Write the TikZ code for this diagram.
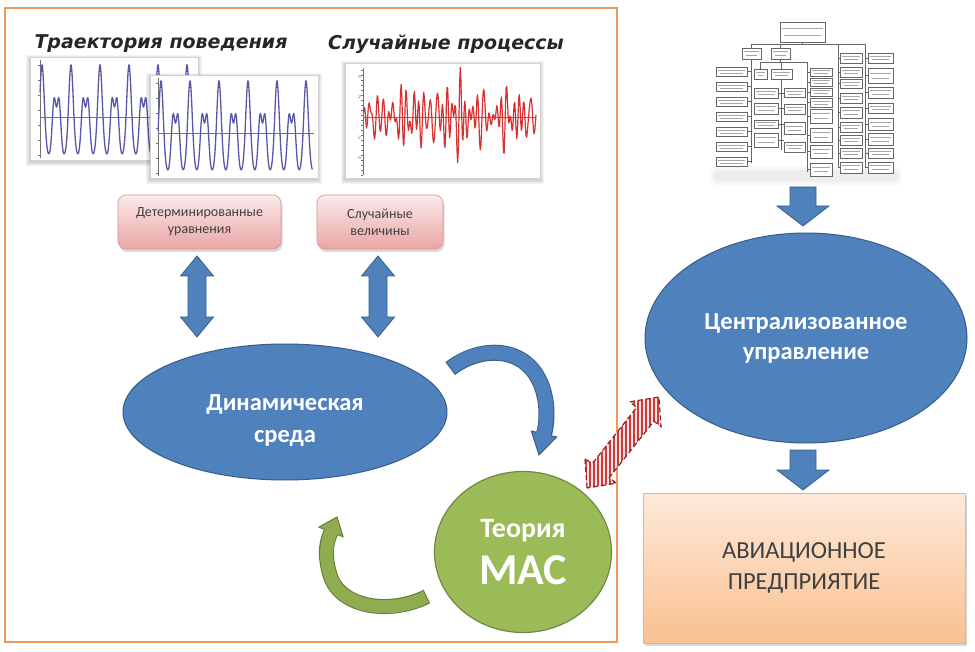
\documentclass[tikz,border=0pt]{standalone}
\usepackage{fontspec}
\setmainfont{Carlito}
\newfontfamily\titlefont{DejaVu Sans}
\usetikzlibrary{calc,shapes.geometric}
\definecolor{cblue}{RGB}{79,129,189}
\definecolor{cbluedk}{RGB}{56,93,138}
\definecolor{cgreen}{RGB}{155,187,89}
\definecolor{cgreendk}{RGB}{113,137,63}
\definecolor{agreen}{RGB}{143,172,80}
\definecolor{agreendk}{RGB}{100,122,55}
\definecolor{cframe}{RGB}{240,152,92}
\definecolor{pinktop}{RGB}{252,234,234}
\definecolor{pinkbot}{RGB}{234,165,165}
\definecolor{pinkdraw}{RGB}{214,150,150}
\definecolor{orgtop}{RGB}{253,234,218}
\definecolor{orgbot}{RGB}{250,192,145}
\definecolor{orgdraw}{RGB}{228,178,140}
\definecolor{txtgray}{RGB}{64,64,64}
\definecolor{plotblue}{RGB}{88,88,170}
\definecolor{plotred}{RGB}{214,48,48}
\definecolor{hatchred}{RGB}{205,60,60}
\definecolor{hatchbg}{RGB}{252,228,228}
\definecolor{hatchdk}{RGB}{130,40,40}
\newcommand\dblpts[3]{\coordinate (dP) at ($(#1)!#3!(#2)$);\coordinate (dQ) at ($(#2)!#3!(#1)$);}
\newcommand\dblpath[5]{(#1) -- ($(dP)!#4!90:(#2)$) -- ($(dP)!#5!90:(#2)$) -- ($(dQ)!#5!-90:(#1)$) -- ($(dQ)!#4!-90:(#1)$) -- (#2) -- ($(dQ)!#4!90:(#1)$) -- ($(dQ)!#5!90:(#1)$) -- ($(dP)!#5!-90:(#2)$) -- ($(dP)!#4!-90:(#2)$) -- cycle}
\newcommand\sglpath[5]{($(#1)!#5!90:(#2)$) -- ($(dQ)!#5!-90:(#1)$) -- ($(dQ)!#4!-90:(#1)$) -- (#2) -- ($(dQ)!#4!90:(#1)$) -- ($(dQ)!#5!90:(#1)$) -- ($(#1)!#5!-90:(#2)$) -- cycle}
\newcommand\softshadow[4]{\foreach \k in {1,...,4}{\fill[black,opacity=0.045] ({#1-\k},{#2-\k+2}) rectangle ({#3+\k},{#4+\k+2});}}
\tikzset{
  declare function={bw(\u)=-41+93*exp(-4*(1-cos(\u)))+57*exp(-6*(1-cos(\u-150)))+57*exp(-6*(1-cos(\u-210)));},
  titlestyle/.style={font=\titlefont\bfseries\itshape\fontsize{19}{22}\selectfont, text=black!85, inner sep=0pt},
  plotframe/.style={fill=white, draw=black!18, line width=0.5pt},
  plotaxis/.style={draw=black!55, line width=0.6pt},
  pinkbox/.style={rectangle, rounded corners=8pt, draw=pinkdraw, line width=0.6pt, top color=pinktop, bottom color=pinkbot, align=center, text=txtgray, font=\fontsize{14}{17}\selectfont, inner sep=0pt, preaction={fill=black, opacity=0.15, transform canvas={shift={(1.5pt,-3pt)}}}},
  orangebox/.style={rectangle, draw=orgdraw, line width=0.6pt, top color=orgtop, bottom color=orgbot, align=center, text=txtgray, font=\fontsize{24.5}{31}\selectfont, inner sep=0pt, preaction={fill=black, opacity=0.15, transform canvas={shift={(2pt,-3pt)}}}},
  blueell/.style={ellipse, fill=cblue, draw=cbluedk, line width=1pt, inner sep=0pt},
  whitetext/.style={text=white, font=\bfseries\fontsize{24.5}{32}\selectfont, align=center, inner sep=0pt},
  greencirc/.style={ellipse, fill=cgreen, draw=cgreendk, line width=1.2pt, inner sep=0pt, text=white, align=center},
  blockarrow/.style={fill=cblue, draw=cbluedk, line width=0.8pt, line join=miter},
  orgbox/.style={fill=white, draw=black!60, line width=0.5pt},
  orgtxt/.style={draw=black!35, line width=0.7pt},
  orgline/.style={draw=black!60, line width=0.5pt},
}
\begin{document}
\begin{tikzpicture}[x=1pt,y=-1pt]
\useasboundingbox (0,0) rectangle (975,652);
\fill[white] (0,0) rectangle (975,652);

% left frame
\draw[cframe, line width=2pt] (5,8) rectangle (617,642);

% titles
\node[titlestyle] (t1) at (161,44) {Траектория поведения};
\node[titlestyle] (t2) at (446,44) {Случайные процессы};

% back blue plot
\softshadow{30}{57}{198}{160}
\draw[plotframe] (30,57) rectangle (198,160);
\draw[plotaxis] (40,60) -- (40,158);
\foreach \t in {65,80,...,155} \draw[plotaxis] (38,\t) -- (40,\t);
\draw[plotaxis] (40,117) -- (196,117);
\draw[plotblue, line width=1.3pt] plot[domain=-24:1900, samples=700] ({42+\x/360*29},{117-bw(\x)});
% front blue plot
\softshadow{150}{75}{318}{178}
\draw[plotframe] (150,75) rectangle (318,178);
\draw[plotaxis] (158,78) -- (158,176);
\foreach \t in {83,98,...,173} \draw[plotaxis] (156,\t) -- (158,\t);
\draw[plotaxis] (158,133) -- (314,133);
\draw[plotblue, line width=1.3pt] plot[domain=-36:1880, samples=700] ({161+\x/360*29},{133-bw(\x)});

% red plot
\softshadow{345}{63}{540}{178}
\draw[plotframe] (345,63) rectangle (540,178);
\draw[plotaxis] (363,68) -- (363,175);
\foreach \t in {70,75,...,175} \draw[plotaxis] (361,\t) -- (363,\t);
\draw[plotaxis] (363,117) -- (536,117);
\foreach \v/\t in {77/4,97/2,138/-2,158/-4}
  \node[anchor=east, inner sep=0pt, font=\fontsize{5}{5}\selectfont, text=black!60] at (361,\v) {\t};
\begin{scope}
\clip (346,64) rectangle (539,177);
\draw[plotred, line width=1.2pt, line join=round] plot[domain=0:172, samples=260] ({364+\x},{117-(0.85+0.35*exp(0-(((\x-87)/35)^2)))*(13*sin(61*\x)+11*sin(79*\x+40)+8*sin(86*\x+100)+9*sin(47*\x+200)+7*sin(31*\x+300))});
\end{scope}

% pink boxes
\node[pinkbox, minimum width=163pt, minimum height=54pt] (det) at (199.5,222) {Детерминированные\\уравнения};
\node[pinkbox, minimum width=126pt, minimum height=54pt] (rnd) at (380,222) {Случайные\\величины};

% ellipses and circle
\node[blueell, minimum width=324pt, minimum height=136pt] (dyn) at (285,412) {};
\node[whitetext] (dynt) at (285,421) {Динамическая\\среда};
\node[blueell, minimum width=322pt, minimum height=210pt, text=white, font=\bfseries\fontsize{24.5}{30}\selectfont, align=center] (cen) at (806,338) {Централизованное\\управление};
\node[greencirc, minimum width=177pt, minimum height=161pt] (mas) at (523,552) {\fontsize{28}{30}\selectfont\bfseries Теория\\[12pt]\fontsize{44}{44}\selectfont\bfseries МАС};
\node[orangebox, minimum width=322pt, minimum height=150pt] (avia) at (804,568) {АВИАЦИОННОЕ\\ПРЕДПРИЯТИЕ};

% vertical double arrows
\coordinate (la1) at (197,256); \coordinate (la2) at (197,337);
\coordinate (ra1) at (378,256); \coordinate (ra2) at (378,337);
\dblpts{la1}{la2}{20pt}
\path[blockarrow] \dblpath{la1}{la2}{20pt}{16.5pt}{9pt};
\dblpts{ra1}{ra2}{20pt}
\path[blockarrow] \dblpath{ra1}{ra2}{20pt}{16.5pt}{9pt};

% down arrows (right)
\coordinate (da1) at (803,187); \coordinate (da2) at (803,226);
\coordinate (db1) at (803,450); \coordinate (db2) at (803,490);
\dblpts{da1}{da2}{20pt}
\path[blockarrow] \sglpath{da1}{da2}{20pt}{26pt}{13pt};
\dblpts{db1}{db2}{20pt}
\path[blockarrow] \sglpath{db1}{db2}{20pt}{26pt}{13pt};

% curved blue arrow
\coordinate (bs) at (451,368); \coordinate (bm) at (538,378); \coordinate (be) at (544,434); \coordinate (bt) at (539,455);
\draw[cbluedk, line width=16pt, shorten <=-1pt] (bs) .. controls (478,347) and (520,345) .. (bm) .. controls (548,396) and (548,420) .. (be);
\filldraw[fill=cblue, draw=cbluedk, line width=1pt, line join=miter] (bt) -- ($(be)!13pt!90:(bt)$) -- ($(be)!13pt!-90:(bt)$) -- cycle;
\draw[cblue, line width=14pt, shorten >=-3pt] (bs) .. controls (478,347) and (520,345) .. (bm) .. controls (548,396) and (548,420) .. (be);

% curved green arrow
\coordinate (gs) at (426,597); \coordinate (gm) at (330,575); \coordinate (ge) at (331,532); \coordinate (gt) at (337,517);
\draw[agreendk, line width=15pt, shorten <=-1pt] (gs) .. controls (390,615) and (340,608) .. (gm) .. controls (325,558) and (325,545) .. (ge);
\filldraw[fill=agreen, draw=agreendk, line width=1pt, line join=miter] (gt) -- ($(ge)!13pt!90:(gt)$) -- ($(ge)!13pt!-90:(gt)$) -- cycle;
\draw[agreen, line width=13pt, shorten >=-3pt] (gs) .. controls (390,615) and (340,608) .. (gm) .. controls (325,558) and (325,545) .. (ge);

% hatched double arrow
\coordinate (hA) at (587,488); \coordinate (hB) at (659,397);
\dblpts{hA}{hB}{22pt}
\fill[hatchbg] \dblpath{hA}{hB}{22pt}{20pt}{11pt};
\begin{scope}
\clip \dblpath{hA}{hB}{22pt}{20pt}{11pt};
\foreach \x in {566,570,...,682} \draw[hatchred, line width=1.4pt] (\x,380) -- (\x,505);
\end{scope}
\draw[hatchdk, line width=1.2pt, dash pattern=on 5pt off 3pt] \dblpath{hA}{hB}{22pt}{20pt}{11pt};

% org chart
\foreach \k in {1,...,6}{\fill[black,opacity=0.012,rounded corners=5pt] ({716-\k},{172-\k}) rectangle ({896+\k},{178+\k+2});}
\draw[orgline] (802,42) -- (802,44);
\draw[orgline] (751,44) -- (865,44);
\draw[orgline] (751,44) -- (751,163);
\draw[orgline] (780,44) -- (780,48);
\draw[orgline] (780,59) -- (780,62);
\draw[orgline] (760,62) -- (807,62);
\draw[orgline] (760,62) -- (760,69);
\draw[orgline] (781,62) -- (781,150);
\draw[orgline] (807,62) -- (807,172);
\draw[orgline] (838,44) -- (838,168);
\draw[orgline] (865,44) -- (865,168);
\foreach \y in {71.5,86.5,101.5,116.5,131.5,146.5,161.5} \draw[orgline] (747,\y) -- (751,\y);
\foreach \y in {93,108.5,124,140} \draw[orgline] (778,\y) -- (784,\y);
\foreach \y in {72,82,92,102.5,116,135,151.5,169.5} \draw[orgline] (807,\y) -- (810,\y);
\foreach \y in {58,72,83.5,98,112.5,127,140,153,167.5} \draw[orgline] (838,\y) -- (840,\y);
\foreach \y in {58,75.5,92.5,108,124,139,153,167.5} \draw[orgline] (865,\y) -- (868,\y);
\foreach \a/\b/\c/\d in {
  780/22/825/42, 742/48/761/59, 771/48/790/59,
  716/67/747/76, 716/82/747/91, 716/97/747/106, 716/112/747/121, 716/127/747/136, 716/142/747/151, 716/157/747/166,
  754/69/767/79, 771/69/792/79,
  754/88/778/98, 754/103/778/114, 754/120/778/128, 754/133/778/147,
  784/88/805/97, 784/104/805/114, 784/122/805/134, 784/142/805/152,
  810/68/832/76, 810/78/832/86, 810/88/832/96, 810/98/832/107, 810/109/832/123, 810/128/832/142, 810/145/832/158, 810/163/832/176,
  840/53/862/63, 840/67/862/77, 840/79/862/88, 840/93/862/103, 840/107/862/118, 840/122/862/132, 840/135/862/145, 840/148/862/158, 840/162/862/173,
  868/53/893/63, 868/68/893/83, 868/87/893/98, 868/103/893/113, 868/118/893/130, 868/133/893/145, 868/148/893/158, 868/162/893/173}{
  \draw[orgbox] (\a,\b) rectangle (\c,\d);
  \draw[orgtxt] ({\a+2},{\b+(\d-\b)/3}) -- ({\c-2},{\b+(\d-\b)/3});
  \draw[orgtxt] ({\a+4},{\b+2*(\d-\b)/3}) -- ({\c-4},{\b+2*(\d-\b)/3});
}
\end{tikzpicture}
\end{document}
